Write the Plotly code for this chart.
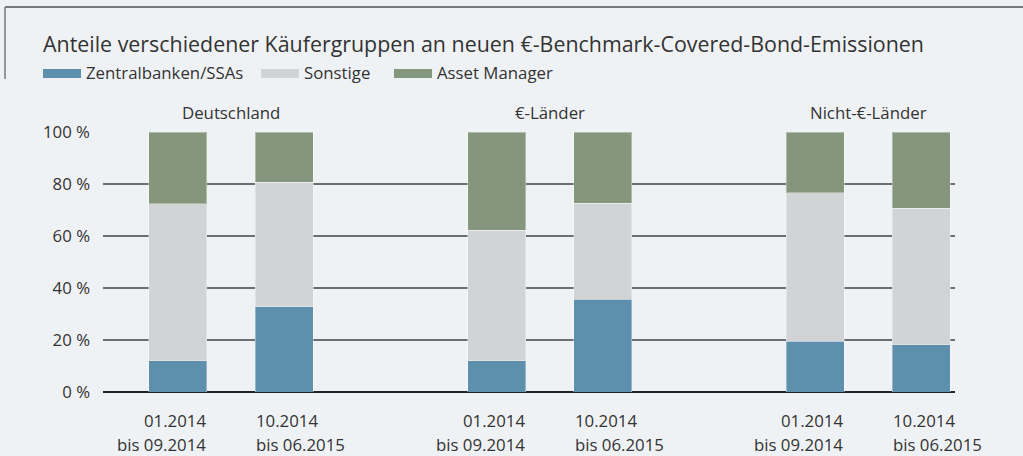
import plotly.graph_objects as go

# ---- data ----
groups = ["Deutschland", "€-Länder", "Nicht-€-Länder"]
periods_line1 = ["01.2014", "10.2014"]
periods_line2 = ["bis 09.2014", "bis 06.2015"]
series_names = ["Zentralbanken/SSAs", "Sonstige", "Asset Manager"]
zentral = [12.1, 32.8, 12.1, 35.7, 19.5, 18.2]
sonstige = [60.4, 47.9, 50.2, 36.9, 57.2, 52.4]
asset = [27.5, 19.3, 37.7, 27.4, 23.3, 29.4]
y_ticks = [0, 20, 40, 60, 80, 100]
title = "Anteile verschiedener Käufergruppen an neuen €-Benchmark-Covered-Bond-Emissionen"

# ---- style ----
W, H = 1023, 456
ML, MR, MT, MB = 103, 68, 132, 64
colors = ["#5e8fac", "#d2d3d5", "#84967b"]
bg = "#eff2f5"
txt = "#333333"
font = "Open Sans"
fs = 16.8
bar_w = 0.546

def px2paper_x(px):
    return (px - ML) / (W - ML - MR)

def px2paper_y(py):
    return (H - MB - py) / (H - MT - MB)

# x positions: 2 bars per group, one empty slot between groups
xpos = [3 * g + i for g in range(len(groups)) for i in range(2)]

fig = go.Figure()
for name, vals, c in zip(series_names, [zentral, sonstige, asset], colors):
    fig.add_trace(go.Bar(
        x=xpos, y=vals, name=name, width=bar_w,
        marker=dict(color=c, line=dict(color="rgba(255,255,255,0.35)", width=1)),
        showlegend=False,
    ))

annotations = []
shapes = []

# group headers
for g, gname in enumerate(groups):
    annotations.append(dict(x=3 * g + 0.5, xref="x", y=px2paper_y(112), yref="paper",
                            text=gname, showarrow=False, xanchor="center", yanchor="middle",
                            font=dict(size=fs, color=txt, family=font)))

# x labels
for g in range(len(groups)):
    for i in range(2):
        p = 3 * g + i
        if i == 0:
            xa, xv = "right", p + bar_w / 2 + 0.01
        else:
            xa, xv = "left", p - bar_w / 2 - 0.01
        for line, py in ((periods_line1[i], 420), (periods_line2[i], 444)):
            annotations.append(dict(x=xv, xref="x", y=px2paper_y(py), yref="paper",
                                    text=line, showarrow=False, xanchor=xa, yanchor="middle",
                                    font=dict(size=fs, color=txt, family=font)))

# title
annotations.append(dict(x=px2paper_x(41), xref="paper", y=px2paper_y(43), yref="paper",
                        text=title, showarrow=False, xanchor="left", yanchor="middle",
                        font=dict(size=21.4, color=txt, family=font)))

# custom legend
leg_x = [43, 261, 394]
for name, c, lx in zip(series_names, colors, leg_x):
    shapes.append(dict(type="rect", xref="paper", yref="paper",
                       x0=px2paper_x(lx), x1=px2paper_x(lx + 38),
                       y0=px2paper_y(78), y1=px2paper_y(69),
                       fillcolor=c, line=dict(width=0)))
    annotations.append(dict(x=px2paper_x(lx + 41), xref="paper", y=px2paper_y(73), yref="paper",
                            text=name, showarrow=False, xanchor="left", yanchor="middle",
                            font=dict(size=fs, color=txt, family=font)))

# frame lines (top and left)
shapes.append(dict(type="line", xref="paper", yref="paper",
                   x0=px2paper_x(5), x1=px2paper_x(W), y0=px2paper_y(7), y1=px2paper_y(7),
                   line=dict(color="#7a7a7a", width=2)))
shapes.append(dict(type="line", xref="paper", yref="paper",
                   x0=px2paper_x(5), x1=px2paper_x(5), y0=px2paper_y(7), y1=px2paper_y(79),
                   line=dict(color="#7a7a7a", width=1.5)))

fig.update_layout(
    width=W, height=H, autosize=False,
    margin=dict(l=ML, r=MR, t=MT, b=MB, pad=0),
    barmode="stack",
    paper_bgcolor=bg, plot_bgcolor=bg,
    font=dict(family=font, color=txt, size=fs),
    annotations=annotations, shapes=shapes,
    xaxis=dict(range=[-0.706, 7.316], showticklabels=False, showgrid=False,
               zeroline=False, showline=False, ticks=""),
    yaxis=dict(range=[0, 100], tickvals=y_ticks, ticktext=[f"{v} %" for v in y_ticks],
               showgrid=True, gridcolor="#6e6e6e", gridwidth=1.5,
               zeroline=True, zerolinecolor="#222222", zerolinewidth=1.5,
               showline=False, ticks="", ticklabelstandoff=12,
               tickfont=dict(size=fs, color=txt, family=font)),
)

fig.write_html(
    "out.html",
    config={"displayModeBar": False},
    post_script="document.body.style.margin='0';document.body.style.background='%s';" % bg,
)
